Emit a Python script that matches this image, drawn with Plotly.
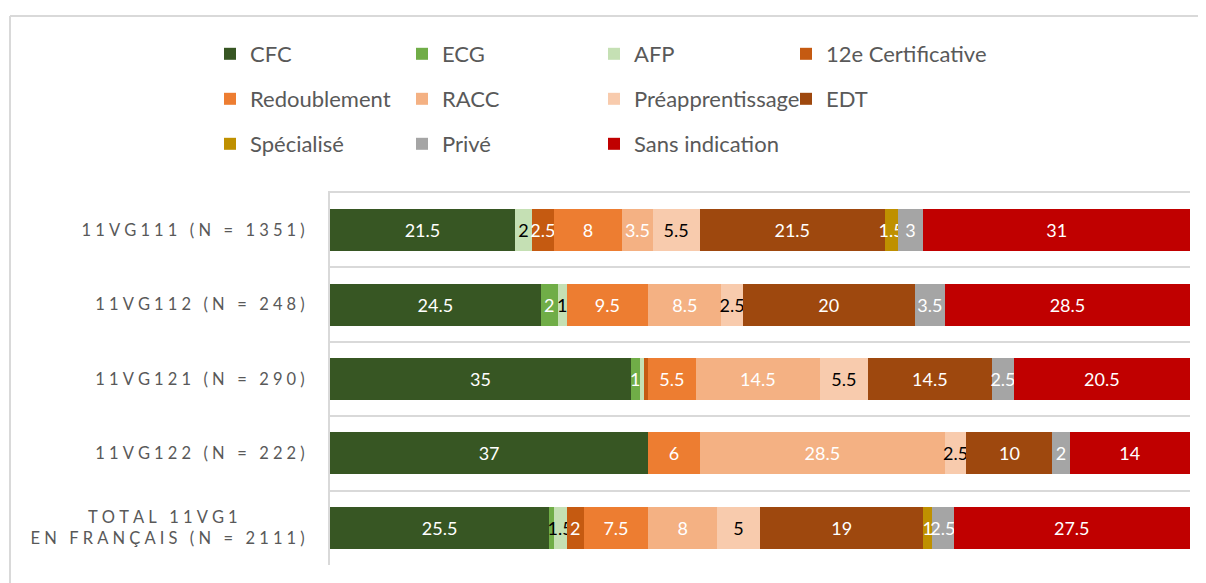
import plotly.graph_objects as go

# rows, top to bottom
categories = [
    "11VG111 (N = 1351)",
    "11VG112 (N = 248)",
    "11VG121 (N = 290)",
    "11VG122 (N = 222)",
    "TOTAL 11VG1\nEN FRANÇAIS (N = 2111)",
]

series_names = ["CFC", "ECG", "AFP", "12e Certificative", "Redoublement", "RACC",
                "Préapprentissage", "EDT", "Spécialisé", "Privé", "Sans indication"]

cfc = [21.5, 24.5, 35, 37, 25.5]
ecg = [0, 2, 1, 0, 0.5]
afp = [2, 1, 0.5, 0, 1.5]
certif12 = [2.5, 0, 0.5, 0, 2]
redoublement = [8, 9.5, 5.5, 6, 7.5]
racc = [3.5, 8.5, 14.5, 28.5, 8]
preapprentissage = [5.5, 2.5, 5.5, 2.5, 5]
edt = [21.5, 20, 14.5, 10, 19]
specialise = [1.5, 0, 0, 0, 1]
prive = [3, 3.5, 2.5, 2, 2.5]
sans_indication = [31, 28.5, 20.5, 14, 27.5]

values = [cfc, ecg, afp, certif12, redoublement, racc,
          preapprentissage, edt, specialise, prive, sans_indication]

colours = ["#375623", "#70AD47", "#C5E0B4", "#C55A11", "#ED7D31", "#F4B183",
           "#F8CBAD", "#9E480E", "#BF9000", "#A5A5A5", "#C00000"]
label_colours = ["white", "white", "black", "white", "white", "white",
                 "black", "white", "white", "white", "white"]

FONT = "Lato, 'Open Sans', sans-serif"
GREY_TEXT = "#595959"
LINE = "#D9D9D9"


def spaced(label):
    # Excel draws these axis labels with wide letter spacing
    lines = label.split("\n")
    out = ["\u2005".join(line) for line in lines]
    if len(out) == 2:
        out[0] = out[0] + "\u2007" * 7  # centre the short first line
    return "<br>".join(out)


tick_text = [spaced(c) for c in categories]

fig = go.Figure()
for i, (name, vals) in enumerate(zip(series_names, values)):
    legend_id = "legend" if i < 4 else ("legend2" if i < 8 else "legend3")
    fig.add_trace(go.Bar(
        y=categories,
        x=vals,
        name=name,
        orientation="h",
        marker=dict(color=colours[i], line=dict(width=0)),
        text=[f"{v:g}" if v >= 1 else "" for v in vals],
        texttemplate="%{text}",
        textposition="inside",
        insidetextanchor="middle",
        textangle=0,
        textfont=dict(color=label_colours[i], size=18, family=FONT),
        legend=legend_id,
        legendwidth=200 if i in (3, 7) else None,  # last column needs room
        hoverinfo="skip",
    ))

# page has an 8px body margin, so the figure is shifted to compensate
OFF = 8
W, H = 1206 - OFF, 583 - OFF
M_L, M_T = 330 - OFF, 193 - OFF
M_R, M_B = W - (1190 - OFF), H - (565 - OFF)
pw, ph = W - M_L - M_R, H - M_T - M_B


def legend_box(y_px):
    return dict(
        orientation="h",
        traceorder="normal",
        x=(210 - OFF - M_L) / pw,
        xanchor="left",
        y=1 + (M_T - (y_px - OFF)) / ph,
        yanchor="middle",
        entrywidth=147,
        entrywidthmode="pixels",
        font=dict(size=22, color=GREY_TEXT, family=FONT),
        bgcolor="rgba(0,0,0,0)",
    )


# chart-area frame: only the left and top edges are inside the picture
fx0 = (10 - OFF - M_L) / pw
fx1 = (W + 40 - M_L) / pw
fy0 = -(M_B + 40) / ph
fy1 = 1 + (M_T - (16 - OFF)) / ph
frame = [
    dict(type="line", xref="paper", yref="paper", x0=fx0, x1=fx0, y0=fy0, y1=fy1,
         line=dict(color=LINE, width=2), layer="below"),
    dict(type="line", xref="paper", yref="paper", x0=fx0, x1=fx1, y0=fy1, y1=fy1,
         line=dict(color=LINE, width=2), layer="below"),
]

fig.update_layout(
    width=W,
    height=H,
    margin=dict(l=M_L, r=M_R, t=M_T, b=M_B),
    paper_bgcolor="white",
    plot_bgcolor="white",
    barmode="stack",
    bargap=0.435,
    font=dict(family=FONT, color=GREY_TEXT),
    uniformtext=dict(minsize=18, mode="show"),
    legend=legend_box(54),
    legend2=legend_box(99),
    legend3=legend_box(144),
    xaxis=dict(
        range=[0, 100],
        side="top",
        showline=True,
        linecolor=LINE,
        linewidth=2,
        showticklabels=False,
        ticks="",
        showgrid=False,
        zeroline=False,
        fixedrange=True,
    ),
    yaxis=dict(
        categoryorder="array",
        categoryarray=categories,
        autorange="reversed",
        tickmode="array",
        tickvals=categories,
        ticktext=tick_text,
        tickson="boundaries",
        ticks="",
        showgrid=True,
        gridcolor=LINE,
        gridwidth=2,
        showline=True,
        linecolor=LINE,
        linewidth=2,
        tickfont=dict(size=16.5, color=GREY_TEXT, family=FONT),
        ticklabelstandoff=20,
    ),
    shapes=frame,
)

fig.write_html("out.html")
